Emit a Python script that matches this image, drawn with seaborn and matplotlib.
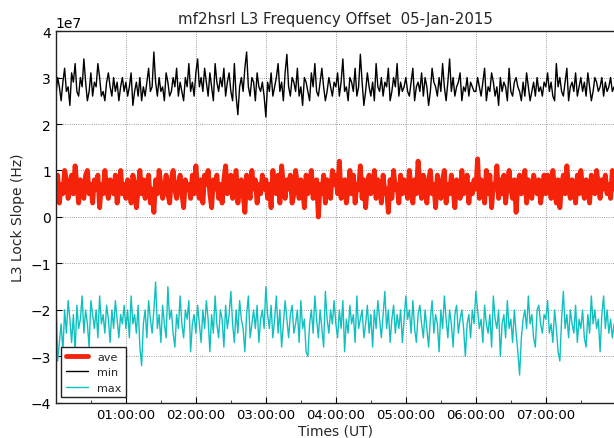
import pandas as pd
import numpy as np
import seaborn as sns
import matplotlib.pyplot as plt
import matplotlib.dates as mdates

# values in units of 1e7 Hz, one sample every 90 s starting 00:00 UT (40 per hour)
min_vals = [
    2.6,3.0,2.8,2.5,2.9,3.2,2.7,2.8,2.4,3.1,2.9,3.3,2.7,2.6,3.0,2.8,3.4,2.9,2.5,2.7,3.1,2.6,2.9,2.8,3.3,3.0,2.6,2.7,2.5,2.9,3.1,2.8,2.6,3.0,2.7,2.9,2.5,2.8,3.0,2.7,
    2.9,2.6,2.8,3.1,2.4,2.7,2.9,2.6,3.0,2.5,2.8,2.6,2.9,3.2,2.7,2.8,3.55,2.9,2.6,3.0,2.7,2.8,2.5,3.1,2.9,2.6,2.7,3.0,2.8,3.2,2.6,2.9,2.7,2.5,3.0,2.8,3.3,2.7,2.9,2.6,
    3.1,3.4,2.8,3.0,2.7,3.2,2.9,2.6,3.1,2.8,2.5,3.3,2.9,2.7,3.0,2.8,3.2,2.6,2.9,3.1,2.7,2.5,3.3,2.6,2.2,2.8,3.0,2.7,3.2,3.55,2.8,2.6,3.0,2.9,2.5,3.1,2.8,2.7,2.9,2.6,
    2.15,2.9,2.7,3.1,2.6,2.8,3.0,3.3,2.7,2.9,2.5,3.1,3.5,2.8,2.6,3.0,2.9,2.7,3.2,2.6,2.8,2.4,3.0,2.9,2.7,2.5,3.1,2.8,3.3,2.7,2.6,2.9,3.2,2.8,2.5,2.7,3.0,2.8,2.6,2.9,
    2.8,3.1,2.6,2.9,3.4,2.7,2.8,2.5,3.0,2.9,2.7,3.2,2.6,2.8,3.5,2.9,2.4,2.7,3.1,2.8,2.6,2.9,2.5,3.3,2.8,2.7,3.0,2.6,2.9,2.8,3.2,2.5,2.7,3.0,2.8,3.3,2.6,2.9,2.7,2.8,
    3.0,2.7,2.6,2.9,3.2,2.5,2.8,2.9,2.7,3.1,2.6,3.0,2.8,2.4,2.7,3.2,2.9,2.8,2.6,3.0,2.7,3.3,2.8,2.5,2.9,3.4,2.7,3.0,2.6,2.8,2.9,3.1,2.5,2.8,2.7,3.0,2.6,2.9,2.8,2.7,
    2.7,3.0,2.8,2.6,2.9,3.2,2.5,2.8,2.7,3.1,2.9,2.6,2.8,2.4,3.0,2.7,2.9,2.8,2.5,3.2,2.7,2.6,2.9,3.0,2.8,2.7,2.5,2.9,2.6,3.1,2.8,2.5,2.7,2.9,2.6,3.0,2.7,2.8,2.6,2.9,
    2.8,3.1,2.7,2.9,2.6,2.5,3.3,2.8,3.0,2.7,2.6,2.9,3.2,2.5,2.8,2.9,2.7,3.1,2.6,2.8,3.0,2.7,2.9,2.6,3.1,2.8,2.5,2.7,3.0,2.9,2.7,2.8,3.0,2.6,2.9,2.7,2.8,3.0,2.7,2.8,
]
ave_vals = [
    0.6,0.9,0.3,0.7,0.5,1.0,0.8,0.4,0.6,0.9,0.5,1.1,0.7,0.3,0.8,0.6,0.4,0.9,1.0,0.5,0.7,0.3,0.8,0.6,0.9,0.2,0.7,0.5,1.0,0.6,0.4,0.8,0.7,0.5,0.9,0.3,0.6,1.0,0.5,0.7,
    0.4,0.8,0.6,0.3,0.9,0.7,0.2,0.6,1.0,0.5,0.8,0.4,0.7,0.9,0.3,0.6,0.1,0.8,0.5,1.0,0.7,0.4,0.6,0.9,0.5,0.3,0.8,1.0,0.6,0.4,0.7,0.9,0.5,0.2,0.8,0.6,0.7,0.4,0.9,0.5,
    1.1,0.6,0.4,0.8,0.3,0.9,0.7,1.0,0.5,0.2,0.8,0.6,0.9,0.4,0.7,0.3,0.8,1.1,0.5,0.6,0.9,0.4,0.7,1.0,0.3,0.6,0.8,0.5,0.1,0.9,0.7,0.4,1.0,0.6,0.8,0.3,0.7,0.5,0.9,0.6,
    0.8,0.4,0.7,0.2,1.0,0.6,0.5,0.9,0.3,1.1,0.7,0.4,0.8,0.6,0.9,0.3,0.5,1.0,0.7,0.4,0.8,0.6,0.2,0.9,0.5,0.7,1.0,0.4,0.6,0.8,0.0,0.7,0.5,0.9,0.3,0.8,0.6,0.4,1.0,0.7,
    0.9,0.5,1.2,0.4,0.7,0.8,0.3,0.6,1.0,0.5,0.9,0.3,0.7,0.6,1.1,0.4,0.8,0.2,0.7,0.9,0.5,0.6,1.0,0.4,0.8,0.7,0.3,0.9,0.5,0.6,0.1,0.8,0.4,1.0,0.6,0.7,0.3,0.9,0.5,0.8,
    0.7,0.4,1.0,0.6,0.3,0.8,0.5,1.2,0.7,0.4,0.9,0.6,0.3,0.8,1.0,0.5,0.7,0.2,0.9,0.6,0.4,0.8,1.0,0.3,0.7,0.5,0.9,0.6,0.2,0.8,0.7,0.4,1.0,0.5,0.6,0.9,0.3,0.7,0.5,0.8,
    0.6,1.25,0.4,0.8,0.7,0.3,1.0,0.5,0.9,0.2,0.7,0.6,1.1,0.4,0.8,0.5,0.9,0.3,0.7,1.0,0.6,0.4,0.8,0.1,0.7,0.9,0.5,0.6,1.0,0.3,0.8,0.6,0.4,0.9,0.7,0.5,0.8,0.3,0.6,0.9,
    0.5,0.9,0.7,0.4,1.0,0.6,0.3,0.8,0.2,0.7,0.9,0.5,1.1,0.6,0.4,0.8,0.7,0.3,0.9,0.5,1.0,0.6,0.4,0.8,0.7,0.3,0.9,0.6,0.5,1.0,0.7,0.4,0.8,0.6,0.9,0.5,0.7,0.4,1.0,0.6,
]
max_vals = [
    -1.6,-3.1,-2.7,-2.3,-2.9,-2.0,-2.5,-1.8,-2.2,-2.7,-2.1,-2.9,-1.9,-2.4,-2.2,-1.7,-2.5,-2.0,-2.3,-2.8,-1.8,-2.1,-2.4,-2.0,-2.6,-1.7,-2.3,-2.1,-2.5,-1.9,-2.2,-2.7,-2.0,-2.4,-1.8,-2.2,-2.6,-2.1,-2.3,-1.9,
    -2.4,-2.0,-2.6,-1.7,-2.3,-2.1,-2.5,-1.9,-2.8,-3.2,-2.3,-2.0,-2.6,-1.8,-2.2,-2.5,-2.0,-1.4,-2.4,-2.1,-2.7,-1.9,-2.3,-2.6,-1.5,-2.2,-2.0,-2.5,-2.8,-2.1,-2.4,-1.7,-2.3,-2.6,-2.0,-2.2,-1.8,-2.9,-2.3,-2.1,
    -2.5,-1.9,-2.3,-2.7,-2.0,-2.4,-1.8,-2.2,-2.9,-2.1,-2.5,-1.7,-2.3,-2.6,-2.0,-2.2,-2.8,-1.9,-2.4,-2.1,-1.6,-2.3,-2.7,-2.0,-2.5,-1.8,-2.2,-2.4,-2.9,-2.1,-1.7,-2.6,-2.3,-2.0,-2.4,-1.9,-2.7,-2.2,-2.0,-2.4,
    -1.5,-2.1,-2.4,-1.9,-2.6,-2.2,-1.7,-2.5,-2.0,-2.8,-2.3,-1.8,-2.2,-2.6,-2.1,-1.9,-2.5,-2.3,-2.0,-2.7,-1.8,-2.4,-2.2,-2.9,-3.0,-2.3,-2.0,-2.5,-1.7,-2.2,-2.6,-2.0,-2.4,-2.8,-1.6,-2.2,-2.5,-2.0,-2.3,-1.8,
    -2.3,-2.6,-2.0,-2.4,-1.8,-2.9,-2.2,-2.5,-1.9,-2.3,-2.1,-2.7,-1.7,-2.4,-2.2,-2.0,-2.6,-2.3,-1.9,-2.5,-2.1,-2.8,-2.0,-2.4,-1.8,-2.2,-2.6,-2.1,-1.6,-2.4,-2.0,-2.7,-2.2,-1.9,-2.5,-2.1,-2.4,-2.0,-2.7,-2.2,
    -1.7,-2.2,-2.0,-2.5,-1.8,-2.4,-2.7,-2.1,-1.9,-2.3,-2.6,-2.0,-2.4,-2.8,-2.2,-1.8,-2.5,-2.1,-2.3,-2.9,-2.0,-2.4,-1.7,-2.2,-2.6,-2.0,-2.3,-2.8,-2.1,-1.9,-2.5,-2.2,-2.0,-2.4,-3.0,-2.3,-2.1,-2.6,-2.0,-2.3,
    -1.6,-2.0,-2.4,-2.2,-2.7,-1.9,-2.3,-2.5,-2.1,-2.8,-1.7,-2.2,-2.4,-2.0,-3.0,-2.3,-2.1,-2.6,-1.8,-2.4,-2.2,-2.7,-2.0,-2.5,-2.9,-3.4,-2.6,-2.2,-2.0,-2.4,-1.7,-2.3,-2.1,-2.6,-2.8,-2.0,-1.9,-2.3,-2.5,-2.1,
    -2.2,-1.8,-2.5,-2.3,-2.7,-2.0,-2.4,-2.9,-3.1,-2.2,-1.6,-2.4,-2.1,-2.6,-2.0,-2.3,-2.5,-1.9,-2.7,-2.2,-2.4,-2.0,-2.6,-2.8,-2.1,-2.5,-1.7,-2.3,-2.0,-2.4,-2.2,-2.9,-2.1,-1.7,-2.4,-2.0,-2.5,-2.2,-2.6,-2.3,
]

start = pd.Timestamp('2015-01-05 00:00:00')
scale = 1e7

def times_for(vals):
    return pd.date_range(start, periods=len(vals), freq='90s')

sns.set_style('ticks')
plt.rcParams['font.family'] = ['DejaVu Sans']
plt.rcParams['xtick.direction'] = 'in'
plt.rcParams['ytick.direction'] = 'in'

fig = plt.figure(figsize=(6.14, 4.39), dpi=100)
ax = fig.add_axes([0.091, 0.080, 0.912, 0.847])

sns.lineplot(x=times_for(ave_vals), y=np.array(ave_vals) * scale, ax=ax, color='#f5230a', linewidth=3.5, label='ave')
sns.lineplot(x=times_for(min_vals), y=np.array(min_vals) * scale, ax=ax, color='black', linewidth=1, label='min')
sns.lineplot(x=times_for(max_vals), y=np.array(max_vals) * scale, ax=ax, color='#10c0c0', linewidth=1, label='max')

ax.set_xlim(start, start + pd.Timedelta(hours=8))
ax.set_ylim(-4e7, 4e7)
ax.set_yticks(np.arange(-4, 5) * scale)
ax.xaxis.set_major_locator(mdates.HourLocator(byhour=range(1, 8)))
ax.xaxis.set_minor_locator(mdates.MinuteLocator(byminute=[30]))
ax.xaxis.set_major_formatter(mdates.DateFormatter('%H:%M:%S'))
ax.tick_params(which='major', length=4, labelsize=9.5, colors='black')
ax.tick_params(axis='y', labelsize=10)
ax.tick_params(which='minor', length=2)
ax.grid(True, which='major', linestyle=':', color='black', linewidth=0.6, alpha=0.5)
for s in ax.spines.values():
    s.set_color('#222222')
    s.set_linewidth(1)

ax.set_title('mf2hsrl L3 Frequency Offset  05-Jan-2015', fontsize=10.8)
ax.set_xlabel('Times (UT)', fontsize=10, labelpad=2)
ax.set_ylabel('L3 Lock Slope (Hz)', fontsize=10)

leg = ax.legend(loc='lower left', fontsize=8, fancybox=False, framealpha=1, edgecolor='#222222')
leg.get_frame().set_linewidth(1)

plt.savefig('out.png', dpi=100)
